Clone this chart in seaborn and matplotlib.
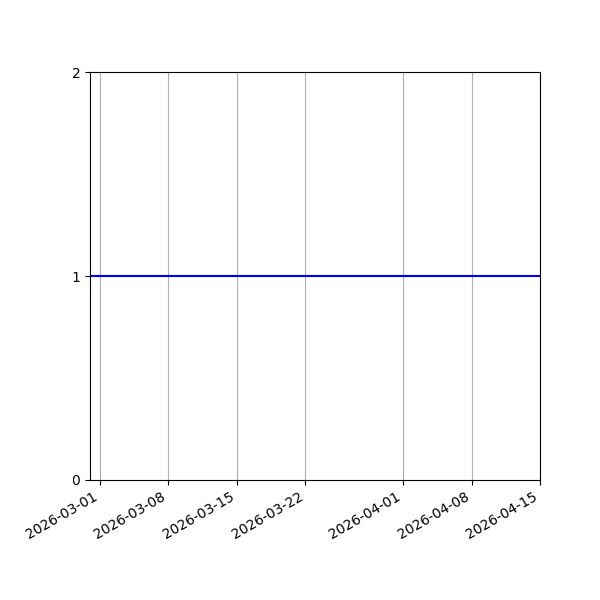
import matplotlib
matplotlib.use('Agg')
import pandas as pd
import matplotlib.pyplot as plt
import matplotlib.dates as mdates
import seaborn as sns

# data
dates = ['2026-02-28', '2026-04-15']
values = [1, 1]
y_ticks = [0, 1, 2]

df = pd.DataFrame({'date': pd.to_datetime(dates), 'value': values})

fig, ax = plt.subplots(figsize=(6, 6), dpi=100)
sns.lineplot(data=df, x='date', y='value', color='blue', linewidth=1.5, ax=ax)

ax.set_xlim(df['date'].min(), df['date'].max())
ax.set_ylim(0, 2)
ax.set_yticks(y_ticks)
ax.xaxis.set_major_locator(mdates.AutoDateLocator())
ax.xaxis.set_major_formatter(mdates.DateFormatter('%Y-%m-%d'))
ax.grid(True, axis='x')
ax.set_xlabel('')
ax.set_ylabel('')

fig.autofmt_xdate()
fig.subplots_adjust(left=0.15, right=0.9, top=0.88, bottom=0.2)

plt.savefig('out.png', dpi=100)
